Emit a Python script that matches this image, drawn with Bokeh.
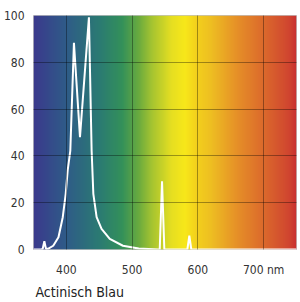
import numpy as np
from bokeh.plotting import figure
from bokeh.models import Range1d, FixedTicker, Title
from bokeh.embed import file_html
from bokeh.resources import INLINE

# Spectrum of the lamp (wavelength nm, relative intensity %)
wavelength = [350, 362, 364, 366.5, 369, 372, 380, 388, 394.5, 399, 402, 406,
              411.5, 420.7, 434.3, 438.4, 441, 446, 453.5, 466, 486, 510,
              540, 542, 545.5, 549, 552, 580, 584, 587, 590, 594, 750]
intensity = [0, 0, 0.3, 3.5, 0.2, 0.3, 1.6, 5.2, 13.8, 23.8, 33.8, 42.3,
             88.3, 48, 99.2, 42.3, 23.8, 13.8, 8.8, 4.5, 1.6, 0.4,
             0, 0, 29.2, 0, 0, 0, 0, 5.9, 0, 0, 0]

x_ticks = [400, 500, 600, 700]
x_labels = {700: "700 nm"}
y_ticks = [0, 20, 40, 60, 80, 100]
title_text = "Actinisch Blau"

# Background spectrum colour stops (style)
stop_nm = [350, 400, 450, 485, 510, 530, 560, 580, 600, 620, 660, 700, 740, 750]
stop_col = ["#3b3a8d", "#2f5c88", "#2b7b73", "#34915a", "#6aab3f", "#a5c431",
            "#e6df22", "#f8e81a", "#f3cf1d", "#eebf22", "#e69028", "#dc6a2c",
            "#d04530", "#c93030"]

FONT = "Liberation Sans Narrow, Arial Narrow, DejaVu Sans Condensed, sans-serif"

p = figure(width=300, height=302, output_backend="svg", toolbar_location=None,
           x_range=Range1d(350, 750), y_range=Range1d(0, 100),
           min_border_left=30, min_border_right=4, min_border_top=15,
           min_border_bottom=15)

# gradient image
N = 400
xs = np.linspace(350, 750, N)
def hex2rgb(h):
    return [int(h[i:i + 2], 16) for i in (1, 3, 5)]
rgbs = np.array([hex2rgb(c) for c in stop_col], dtype=float)
r = np.interp(xs, stop_nm, rgbs[:, 0])
g = np.interp(xs, stop_nm, rgbs[:, 1])
b = np.interp(xs, stop_nm, rgbs[:, 2])
img = np.empty((1, N), dtype=np.uint32)
view = img.view(dtype=np.uint8).reshape((1, N, 4))
view[0, :, 0] = r.astype(np.uint8)
view[0, :, 1] = g.astype(np.uint8)
view[0, :, 2] = b.astype(np.uint8)
view[0, :, 3] = 255
p.image_rgba(image=[img], x=350, y=0, dw=400, dh=100, level="image")

p.line(wavelength, intensity, line_color="white", line_width=2)

p.background_fill_color = "white"
p.outline_line_color = "#999999"
p.outline_line_alpha = 0.6

for grid in (p.xgrid, p.ygrid):
    grid.grid_line_color = "black"
    grid.grid_line_alpha = 0.35
    grid.grid_line_width = 1
    grid.level = "overlay"
p.xgrid.ticker = FixedTicker(ticks=x_ticks)
p.ygrid.ticker = FixedTicker(ticks=[20, 40, 60, 80])

for ax in (p.xaxis[0], p.yaxis[0]):
    ax.axis_line_color = None
    ax.major_tick_line_color = None
    ax.minor_tick_line_color = None
    ax.major_label_text_font = FONT
    ax.major_label_text_font_size = "12px"
    ax.major_label_text_color = "#333333"
p.xaxis[0].ticker = FixedTicker(ticks=x_ticks)
p.xaxis[0].major_label_overrides = x_labels
p.xaxis[0].major_label_standoff = 7
p.yaxis[0].ticker = FixedTicker(ticks=y_ticks)
p.yaxis[0].major_label_standoff = 3

t = Title(text=title_text, align="left", text_font=FONT, text_font_size="14px",
          text_font_style="normal", text_color="#222222", offset=2, standoff=5)
p.add_layout(t, "below")

open("out.html", "w").write(file_html(p, INLINE))
